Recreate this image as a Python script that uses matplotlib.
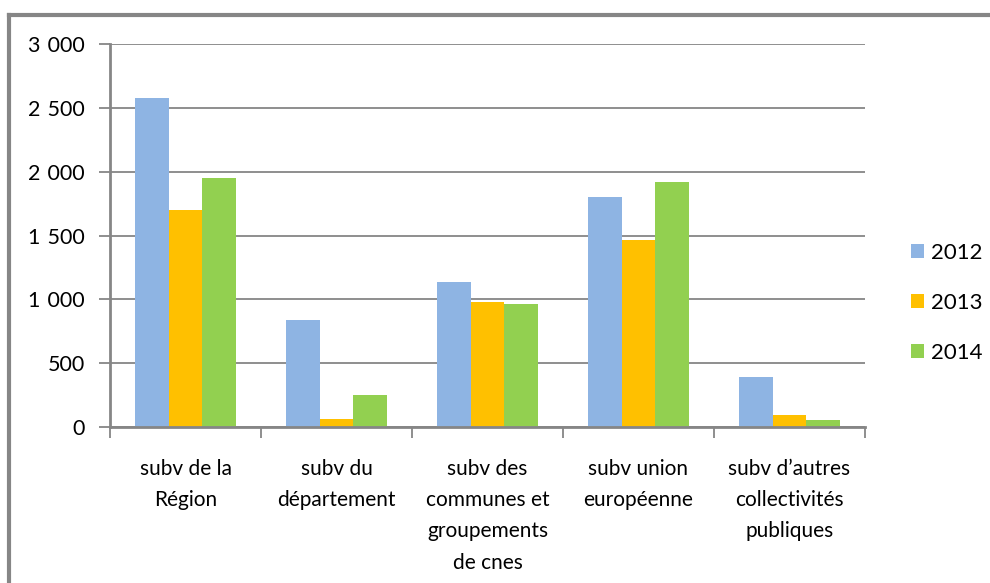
import numpy as np
import matplotlib.pyplot as plt
from matplotlib.lines import Line2D
from matplotlib.ticker import FuncFormatter

# data
categories = ['subv de la\nRégion', 'subv du\ndépartement', 'subv des\ncommunes et\ngroupements\nde cnes',
              'subv union\neuropéenne', 'subv d’autres\ncollectivités\npubliques']
years = ['2012', '2013', '2014']
v2012 = [2575, 838, 1136, 1800, 392]
v2013 = [1700, 63, 979, 1465, 94]
v2014 = [1950, 250, 963, 1920, 55]
colors = ['#8EB4E3', '#FFC000', '#92D050']

plt.rcParams['font.family'] = ['Lato', 'DejaVu Sans']
plt.rcParams['font.size'] = 15

fig = plt.figure(figsize=(9.9, 5.83), dpi=100)
ax = fig.add_axes([110/990, 1-427/583, (865-110)/990, (427-44)/583])

x = np.arange(len(categories))
w = 0.667 / 3
for i, (vals, lab) in enumerate(zip([v2012, v2013, v2014], years)):
    ax.bar(x + (i - 1) * w, vals, w, color=colors[i], label=lab, zorder=2)

ax.set_xlim(-0.5, len(categories) - 0.5)
ax.set_ylim(0, 3000)
ax.set_yticks(np.arange(0, 3001, 500))
ax.yaxis.set_major_formatter(FuncFormatter(lambda v, p: f'{int(v):,}'.replace(',', '\u2004')))
ax.set_xticks(np.arange(-0.5, len(categories)), minor=False)
ax.set_xticklabels([])
ax.set_xticks(x, minor=True)
ax.set_xticklabels(categories, minor=True, linespacing=1.7, va='top')
ax.tick_params(axis='x', which='minor', length=0, pad=23)
ax.tick_params(axis='x', which='major', length=8, width=1.3, color='#868686')
ax.tick_params(axis='y', length=8, width=1.3, color='#868686', pad=10, labelsize=15.5)
ax.yaxis.grid(True, color='#868686', linewidth=1.3, zorder=0)
ax.set_axisbelow(True)
for s in ['top', 'right']:
    ax.spines[s].set_visible(False)
for s in ['left', 'bottom']:
    ax.spines[s].set_color('#868686')
    ax.spines[s].set_linewidth(2)

ax.legend(loc='center left', bbox_to_anchor=(0.9, 0.481), bbox_transform=fig.transFigure,
          frameon=False, handlelength=0.6, handleheight=0.6, handletextpad=0.3,
          labelspacing=1.35, fontsize=16)

# chart border
fig.add_artist(Line2D([8.5/990, 1], [1-14.5/583, 1-14.5/583], color='#868686', lw=3, transform=fig.transFigure))
fig.add_artist(Line2D([8.5/990, 8.5/990], [0, 1-14.5/583], color='#868686', lw=3, transform=fig.transFigure))

fig.savefig('out.png', dpi=100)
